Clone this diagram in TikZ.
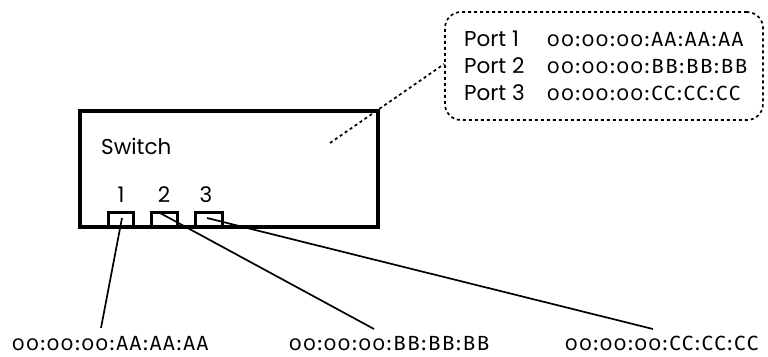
\documentclass[tikz,border=0pt]{standalone}
\usepackage{fontspec}
\setmainfont{Poppins}
\newfontfamily\macfont[Numbers=OldStyle,LetterSpace=8]{Fira Sans}
\begin{document}
\begin{tikzpicture}[x=1pt,y=-1pt,
  geo/.style={font=\fontsize{21.5}{26}\selectfont, inner sep=0pt},
  mac/.style={font=\macfont\fontsize{20.5}{24}\selectfont, inner sep=0pt, anchor=base west},
  portbox/.style={draw, line width=3pt, inner sep=0pt},
  wire/.style={line width=1.7pt},
  callout/.style={line width=1.7pt, dash pattern=on 3pt off 3pt}]
\useasboundingbox (0,0) rectangle (768,356);
% switch
\node[draw, line width=4pt, minimum width=298pt, minimum height=116pt, inner sep=0pt] (switch) at (229,169) {};
\node[geo, anchor=base west] (swlabel) at (101,154) {Switch};
\node[portbox, minimum width=25pt, minimum height=15pt] (p1) at (120.5,219.5) {};
\node[portbox, minimum width=26pt, minimum height=15pt] (p2) at (164,219.5) {};
\node[portbox, minimum width=27pt, minimum height=15pt] (p3) at (208.5,219.5) {};
\node[geo, anchor=base] (n1) at (121,202) {1};
\node[geo, anchor=base] (n2) at (164,202) {2};
\node[geo, anchor=base] (n3) at (206,202) {3};
% bubble
\node[draw, callout, rounded corners=16pt, minimum width=318pt, minimum height=108pt, inner sep=0pt] (bubble) at (604,66) {};
\node[geo, anchor=base west] (port1) at (464,46) {Port 1};
\node[geo, anchor=base west] (port2) at (464,73) {Port 2};
\node[geo, anchor=base west] (port3) at (464,100) {Port 3};
\node[mac] (bmac1) at (547,46) {00:00:00:AA:AA:AA};
\node[mac] (bmac2) at (547,73) {00:00:00:BB:BB:BB};
\node[mac] (bmac3) at (547,100) {00:00:00:CC:CC:CC};
\coordinate (d1) at (330,143);
\coordinate (d2) at (bubble.west |- 0,64);
\draw[callout] (d1) -- (d2);
% hosts
\node[mac] (mac1) at (12,350) {00:00:00:AA:AA:AA};
\node[mac] (mac2) at (289,350) {00:00:00:BB:BB:BB};
\node[mac] (mac3) at (565,350) {00:00:00:CC:CC:CC};
\coordinate (c1) at (122,218);
\coordinate (c2) at (160,213);
\coordinate (c3) at (207,218);
\coordinate (e1) at (101,328);
\coordinate (e2) at (374,329);
\coordinate (e3) at (653,329);
\draw[wire] (c1) -- (e1);
\draw[wire] (c2) -- (e2);
\draw[wire] (c3) -- (e3);
\end{tikzpicture}
\end{document}
